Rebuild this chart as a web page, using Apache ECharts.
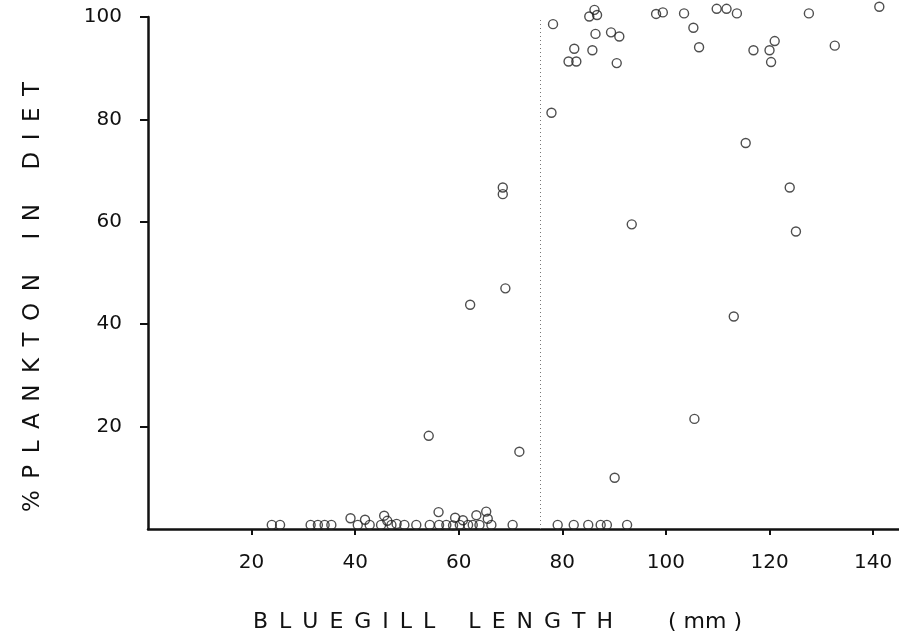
<!DOCTYPE html>
<html>
<head>
<meta charset="utf-8">
<script src="https://cdn.jsdelivr.net/npm/echarts@6/dist/echarts.min.js"></script>
<style>
html,body{margin:0;padding:0;background:#fff;}
#chart{width:899px;height:639px;}
</style>
</head>
<body>
<div id="chart"></div>
<script>
// Bluegill length (mm) and % plankton in diet
var lengths = [
  23.9,25.5,31.4,32.8,34.1,35.4,39.1,40.5,41.9,42.8,45.6,45.0,46.2,47.0,48.0,49.5,51.8,54.4,
  56.1,56.2,57.6,58.9,59.3,60.2,60.8,61.8,62.7,63.4,64.0,65.3,65.6,66.3,70.4,
  79.1,82.2,85.0,87.4,88.6,92.5,
  54.2,71.7,90.1,105.5,113.1,62.2,69.0,93.4,68.5,68.5,123.9,125.1,115.4,
  77.9,78.2,81.2,82.7,90.5,82.3,85.8,86.4,89.4,91.0,85.2,86.2,86.7,98.1,99.4,103.5,105.3,106.4,
  109.8,111.7,113.7,116.9,120.0,121.0,120.3,127.6,132.6,141.2
];
var plankton = [
  0.8,0.8,0.8,0.8,0.8,0.8,2.1,0.8,1.8,0.8,2.6,0.8,1.6,0.8,1.0,0.8,0.8,0.8,
  3.3,0.8,0.8,0.7,2.2,0.8,1.7,0.8,0.8,2.7,0.8,3.4,2.0,0.8,0.8,
  0.8,0.8,0.8,0.8,0.8,0.8,
  18.2,15.1,10.0,21.5,41.5,43.8,47.0,59.5,66.7,65.4,66.7,58.1,75.4,
  81.3,98.6,91.3,91.3,91.0,93.8,93.5,96.7,97.0,96.2,100.1,101.4,100.4,100.6,100.9,100.7,97.9,94.1,
  101.6,101.6,100.7,93.5,93.5,95.3,91.2,100.7,94.4,102.0
];
var xTicks = [20, 40, 60, 80, 100, 120, 140];
var yTicks = [20, 40, 60, 80, 100];
var cutoff = 75.8;

var points = lengths.map(function (x, i) { return [x, plankton[i]]; });

// letter-spaced axis titles (en space between letters, wider gap between words)
var EN = '\u2002', EM = '\u2003';
function spaced(word) { return word.split('').join(EN); }
var xName = spaced('BLUEGILL') + EN + EM + spaced('LENGTH') + EM + EM + EN + '( mm )';
var yName = spaced('%PLANKTON') + EN + EM + spaced('IN') + EN + EM + spaced('DIET');

var font = '"DejaVu Sans", "Liberation Sans", sans-serif';
var chart = echarts.init(document.getElementById('chart'), null, {renderer: 'canvas'});
chart.setOption({
  animation: false,
  backgroundColor: '#ffffff',
  grid: {left: 148, right: 0, top: 17, bottom: 110, containLabel: false},
  xAxis: {
    type: 'value', min: 0, max: 145, interval: 20,
    name: xName,
    nameLocation: 'middle', nameGap: 82,
    nameTextStyle: {fontFamily: font, fontSize: 22, color: '#111', padding: [0, 52, 0, 0]},
    axisLine: {show: true, lineStyle: {color: '#111', width: 2.5}},
    axisTick: {show: true, inside: false, length: 6, lineStyle: {color: '#111', width: 2}, customValues: xTicks},
    axisLabel: {
      margin: 24, fontFamily: font, fontSize: 20, color: '#111', customValues: xTicks
    },
    splitLine: {show: false}
  },
  yAxis: {
    type: 'value', min: 0, max: 100, interval: 20,
    name: yName,
    nameLocation: 'middle', nameGap: 103, nameRotate: 90,
    nameTextStyle: {fontFamily: font, fontSize: 23, color: '#111', padding: [0, 48, 0, 0]},
    axisLine: {show: true, lineStyle: {color: '#111', width: 2.5}},
    axisTick: {show: true, inside: false, length: 8, lineStyle: {color: '#111', width: 2}, customValues: yTicks},
    axisLabel: {
      margin: 26, fontFamily: font, fontSize: 20, color: '#111', customValues: yTicks
    },
    splitLine: {show: false}
  },
  series: [{
    type: 'scatter',
    data: points,
    clip: false,
    symbol: 'circle',
    symbolSize: 9,
    itemStyle: {color: 'rgba(0,0,0,0)', borderColor: '#222', borderWidth: 1.4},
    markLine: {
      silent: true,
      symbol: ['none', 'none'],
      label: {show: false},
      lineStyle: {color: '#777', width: 1, type: [1, 3]},
      data: [{xAxis: cutoff}]
    }
  }]
});
</script>
</body>
</html>
